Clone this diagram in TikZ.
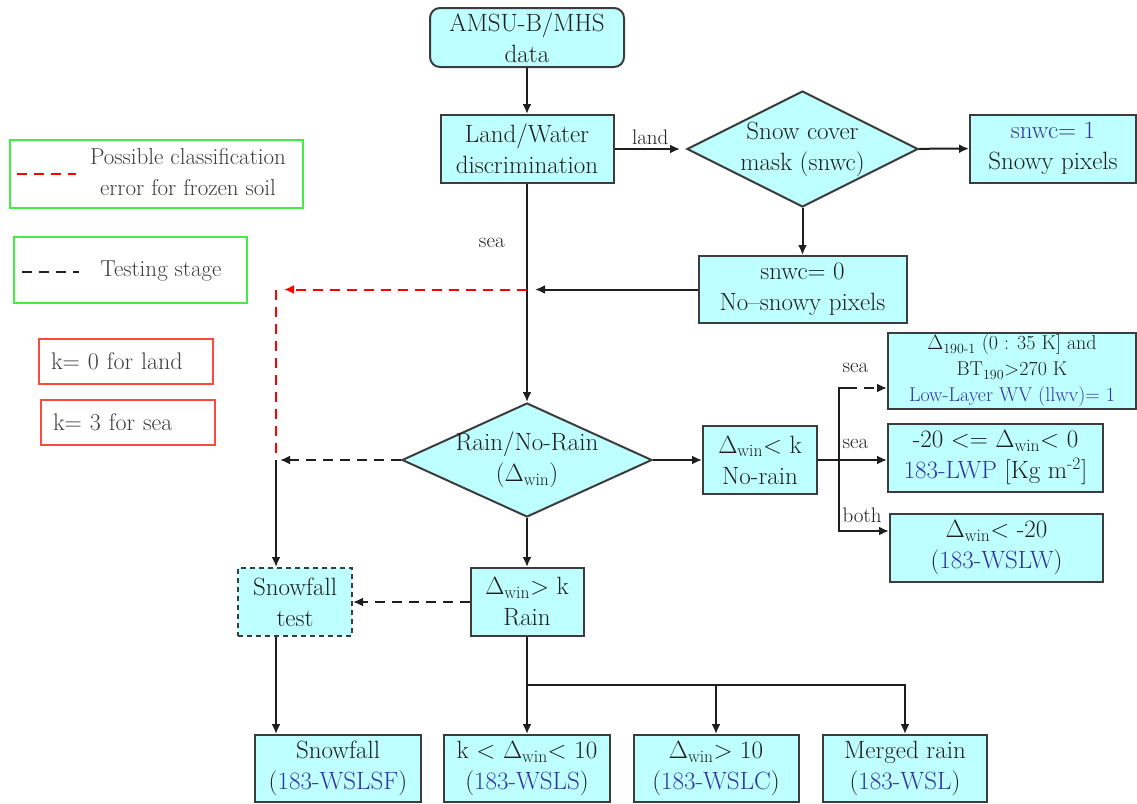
\documentclass[tikz,border=0pt]{standalone}
\usepackage{tikz}
\usetikzlibrary{shapes.geometric, arrows.meta}
\definecolor{boxColor}{RGB}{190,255,255}
\definecolor{edgeColor}{RGB}{60,60,60}
\definecolor{inkColor}{RGB}{30,30,30}
\definecolor{blueText}{RGB}{50,50,165}
\definecolor{legendGreen}{RGB}{70,235,70}
\definecolor{legendRed}{RGB}{250,75,60}
\definecolor{legendInk}{RGB}{60,60,60}
\tikzstyle{flowchart} = [x = 1pt, y = -1pt]
\tikzstyle{boxStyle} = [draw=edgeColor, fill=boxColor, line width=2pt, inner sep=0pt, minimum height=68pt, align=center, text=inkColor, font=\fontsize{25}{31}\selectfont]
\tikzstyle{decisionStyle} = [boxStyle, diamond]
\tikzstyle{boxText} = [inner sep=0pt, align=center, text=inkColor, font=\fontsize{25}{31}\selectfont]
\tikzstyle{plainLine} = [draw=inkColor, line width=2pt]
\tikzstyle{arrowLine} = [plainLine, -{Latex[length=10pt, width=9pt]}]
\tikzstyle{dashLine} = [arrowLine, dash pattern=on 10pt off 7pt]
\tikzstyle{redDash} = [draw=red, line width=2pt, dash pattern=on 10pt off 7pt]
\tikzstyle{branchText} = [text=inkColor, font=\fontsize{21}{26}\selectfont]
\tikzstyle{legendBox} = [draw=legendGreen, line width=2.2pt, inner sep=0pt]
\tikzstyle{legendText} = [align=center, inner sep=0pt, text=legendInk, font=\fontsize{23}{31}\selectfont]
\tikzstyle{kBox} = [draw=legendRed, line width=2.2pt, inner xsep=12pt, inner ysep=0pt, text width=150pt, minimum height=45pt, align=left, text=legendInk, font=\fontsize{24}{31}\selectfont]
\newcommand{\flowBox}[4]{\node [boxStyle, minimum width = #3] (#1) at (#2) {#4};}
\newcommand{\prodName}[1]{\textcolor{blueText}{#1}}
\newcommand{\dwin}{$\Delta$\textsubscript{win}}

\begin{document}
\begin{tikzpicture}[flowchart]
  \useasboundingbox (0,0) rectangle (1137,803);

  % legend
  \node [legendBox, minimum width=293pt, minimum height=68pt] (legendErr) at (156.5,174) {};
  \node [legendText] (legendErrText) at (188,172) {Possible classification\\error for frozen soil};
  \draw [redDash] ([xshift=8pt]legendErr.west) -- ++(59,0);
  \node [legendBox, minimum width=233pt, minimum height=66pt] (legendTest) at (130.5,270) {};
  \node [legendText] (legendTestText) at (161,271) {Testing stage};
  \draw [plainLine, dash pattern=on 10pt off 7pt] ([xshift=9pt]legendTest.west) ++(0,2) -- ++(57,0);
  \node [kBox] (kLand) at (126,361.5) {k= 0 for land};
  \node [kBox] (kSea) at (128,422.5) {k= 3 for sea};

  % upper part
  \node [boxStyle, rounded corners=10pt, minimum width=194pt, minimum height=59pt] (amsu) at (527,37.5) {AMSU-B/MHS\\data};
  \flowBox{landWater}{527,149}{173pt}{Land/Water\\discrimination}
  \node [decisionStyle, minimum width=231pt, minimum height=116pt] (snowMask) at (802.5,149) {};
  \node [boxText] (snowMaskText) at (snowMask) {Snow cover\\mask (snwc)};
  \flowBox{snowy}{1053,148.5}{166pt}{\prodName{snwc= 1}\\Snowy pixels}
  \node [boxStyle, minimum width=208pt, minimum height=67pt] (snowNo) at (802.5,289.5) {snwc= 0\\No--snowy pixels};

  % rain / no-rain
  \node [decisionStyle, minimum width=250pt, minimum height=114pt] (rainDiamond) at (527,460) {};
  \node [boxText] (rainDiamondText) at (rainDiamond) {Rain/No-Rain\\(\dwin)};
  \flowBox{noRain}{760,460}{114pt}{\dwin< k\\No-rain}
  \node [boxStyle, minimum width=248pt, minimum height=76pt, font=\fontsize{20}{26}\selectfont] (llwv) at (1012,371) {$\Delta$\textsubscript{190-1} (0 : 35 K] and\\BT\textsubscript{190}>270 K\\\prodName{Low-Layer WV (llwv)= 1}};
  \flowBox{lwp}{995.5,458}{215pt}{-20 <= \dwin< 0\\\prodName{183-LWP} [Kg m\textsuperscript{-2}]}
  \flowBox{wslw}{996.5,547.5}{213pt}{\dwin< -20\\(\prodName{183-WSLW})}
  \node [boxStyle, minimum width=114pt, dash pattern=on 5pt off 4pt] (snowTest) at (295,602) {Snowfall\\test};
  \flowBox{rainBox}{527,602}{113pt}{\dwin> k\\Rain}

  % products
  \node [boxStyle, minimum width=166pt, minimum height=67pt] (snowfall) at (338,768.5) {Snowfall\\(\prodName{183-WSLSF})};
  \node [boxStyle, minimum width=166pt, minimum height=67pt] (kLess) at (527,768.5) {k <  \dwin < 10\\(\prodName{183-WSLS})};
  \node [boxStyle, minimum width=165pt, minimum height=67pt] (winGreat) at (716,768.5) {\dwin > 10\\(\prodName{183-WSLC})};
  \node [boxStyle, minimum width=164pt, minimum height=67pt] (merged) at (905,768.5) {Merged rain\\(\prodName{183-WSL})};

  % connectors
  \coordinate (seaJoin) at (landWater.south |- snowNo.west);
  \coordinate (snowCorner) at (276,460);
  \coordinate (redCorner) at (snowCorner |- seaJoin);
  \coordinate (rainBus) at ([yshift=-48pt]rainBox.south);
  \coordinate (noRainJoin) at ([xshift=21pt]noRain.east);
  \coordinate (llwvJoin) at ([yshift=72pt]noRainJoin);
  \coordinate (wslwJoin) at ([yshift=-71pt]noRainJoin);

  \draw [arrowLine] (amsu) -- (landWater);
  \draw [arrowLine, shorten >=6pt] (landWater) -- node [branchText, above] (landLabel) {land} (snowMask);
  \draw [arrowLine] (snowMask) -- (snowy);
  \draw [arrowLine] (snowMask) -- (snowNo);
  \draw [arrowLine] (landWater) -- node [branchText, left=18pt, pos=0.27] (seaLabel) {sea} (rainDiamond);
  \draw [arrowLine, shorten >=8pt] (snowNo.west) -- (seaJoin);
  \draw [redDash, -{Latex[length=10pt, width=9pt]}, shorten >=8pt] (seaJoin) -- (redCorner);
  \draw [redDash] (redCorner) -- ([yshift=7pt]snowCorner);
  \draw [dashLine, shorten >=4pt] (rainDiamond) -- (snowCorner);
  \draw [arrowLine] (snowCorner) -- (snowCorner |- snowTest.north);
  \draw [arrowLine] (rainDiamond) -- (rainBox);
  \draw [dashLine] (rainBox) -- (snowTest);
  \draw [arrowLine] (snowCorner |- snowTest.south) -- (snowCorner |- snowfall.north);
  \draw [arrowLine] (rainBox) -- (kLess);
  \draw [arrowLine] (rainBus) -| (winGreat.north);
  \draw [arrowLine] (rainBus) -| (merged.north);

  \draw [arrowLine] (rainDiamond) -- (noRain);
  \draw [arrowLine] (noRain.east) -- (noRain.east -| lwp.west);
  \draw [plainLine] (noRainJoin) -- (llwvJoin) -- ++(8,0);
  \draw [dashLine] ([xshift=8pt]llwvJoin) -- (llwvJoin -| llwv.west);
  \draw [arrowLine] (noRainJoin) |- (wslwJoin -| wslw.west);
  \node [branchText, anchor=south west] (seaTop) at ([yshift=12pt]llwvJoin) {sea};
  \node [branchText, anchor=south west] (seaMid) at ([yshift=8pt]noRainJoin) {sea};
  \node [branchText, anchor=south west] (bothLabel) at ([yshift=5pt]wslwJoin) {both};
\end{tikzpicture}
\end{document}
